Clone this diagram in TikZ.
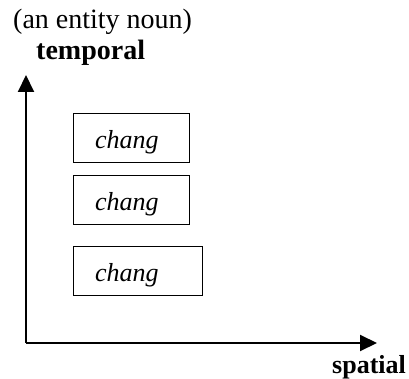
\documentclass[tikz,border=0pt]{standalone}
\usepackage{fontspec}
\setmainfont{Liberation Serif}
\usetikzlibrary{arrows.meta}
\begin{document}
\begin{tikzpicture}[x=1pt,y=-1pt,
  lbl/.style={inner sep=0pt,anchor=base west,font=\fontsize{28}{32}\selectfont},
  boxlbl/.style={lbl,font=\fontsize{26}{30}\selectfont\itshape},
  cbox/.style={draw,line width=1.2pt,inner sep=0pt},
  axis/.style={line width=2pt,-{Triangle[length=17pt,width=16pt]}}]
\useasboundingbox (0,0) rectangle (409,379);
\node[lbl] (title) at (13,29) {(an entity noun)};
\node[lbl,font=\fontsize{28}{32}\selectfont\bfseries] (temp) at (36,60) {temporal};
\node[lbl,font=\fontsize{26}{30}\selectfont\bfseries] (spat) at (332,373) {spatial};
\coordinate (o) at (26,343);
\coordinate (ytip) at (26,75);
\coordinate (xtip) at (377,343);
\draw[axis] (o) -- (ytip);
\draw[axis] (o) -- (xtip);
\node[cbox,minimum width=116pt,minimum height=49pt,anchor=north west] (b1) at (73,113) {};
\node[cbox,minimum width=116pt,minimum height=49pt,anchor=north west] (b2) at (73,175) {};
\node[cbox,minimum width=129pt,minimum height=49pt,anchor=north west] (b3) at (73,246) {};
\begin{scope}
\clip (b1.north west) rectangle ([yshift=9pt]b1.south east);
\node[boxlbl] (t1) at (95,149) {chang};
\end{scope}
\begin{scope}
\clip (b2.north west) rectangle ([yshift=9pt]b2.south east);
\node[boxlbl] (t2) at (95,211) {chang};
\end{scope}
\begin{scope}
\clip (b3.north west) rectangle ([yshift=9pt]b3.south east);
\node[boxlbl] (t3) at (95,281) {chang};
\end{scope}
\end{tikzpicture}
\end{document}
